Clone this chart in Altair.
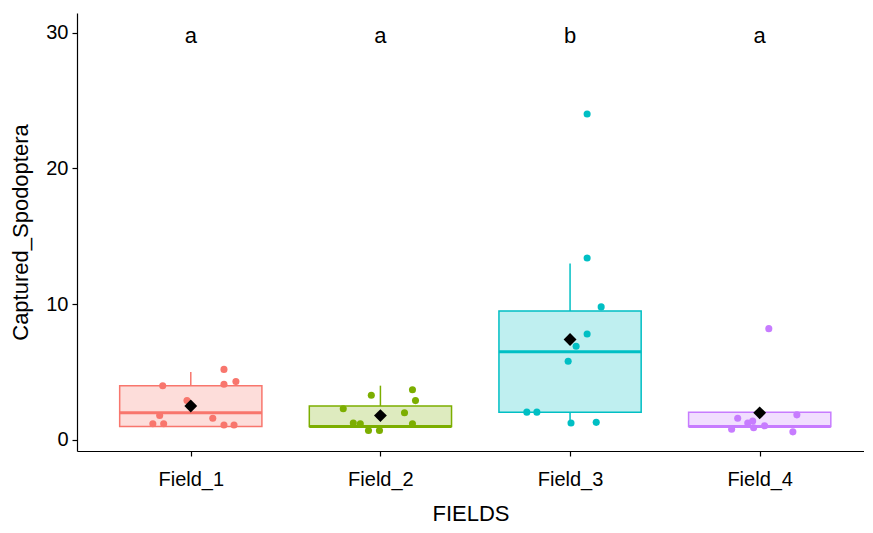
import altair as alt
import pandas as pd

fields = ["Field_1", "Field_2", "Field_3", "Field_4"]
colors = ["#F8766D", "#7CAE00", "#00BFC4", "#C77CFF"]
letters = ["a", "a", "b", "a"]

# box statistics
lower = [1.0, 1.0, 1.25, 1.0]
q1 = [1.0, 1.0, 2.05, 1.0]
median = [2.0, 1.0, 6.5, 1.0]
q3 = [4.0, 2.5, 9.5, 2.05]
upper = [5.0, 4.0, 13.0, 2.05]
means = [2.5, 1.8, 7.4, 2.0]

# jittered observations
f1_vals = [4.0, 5.2, 4.1, 4.3, 2.9, 1.8, 1.2, 1.2, 1.6, 1.1, 1.1]
f1_jit = [-0.148, 0.175, 0.175, 0.238, -0.02, -0.164, -0.2, -0.143, 0.116, 0.175, 0.228]
f2_vals = [3.3, 3.7, 2.9, 2.3, 2.0, 1.25, 1.2, 0.7, 0.7, 1.2]
f2_jit = [-0.048, 0.169, 0.185, -0.196, 0.127, -0.143, -0.106, -0.063, -0.005, 0.169]
f3_vals = [24.0, 13.4, 9.8, 7.8, 6.9, 5.8, 2.05, 2.05, 1.25, 1.3]
f3_jit = [0.09, 0.09, 0.164, 0.09, 0.032, -0.01, -0.228, -0.175, 0.005, 0.138]
f4_vals = [8.2, 1.85, 1.6, 1.25, 1.4, 0.9, 1.05, 0.8, 0.6]
f4_jit = [0.048, 0.196, -0.116, -0.063, -0.037, -0.032, 0.026, -0.148, 0.175]

box_half = 0.375

box_df = pd.DataFrame({
    "field": fields,
    "idx": [1, 2, 3, 4],
    "lower": lower, "q1": q1, "median": median, "q3": q3, "upper": upper,
    "mean": means, "letter": letters,
})
box_df["left"] = box_df["idx"] - box_half
box_df["right"] = box_df["idx"] + box_half
box_df["ytext"] = 30

rows = []
for i, (vals, jit) in enumerate([(f1_vals, f1_jit), (f2_vals, f2_jit), (f3_vals, f3_jit), (f4_vals, f4_jit)]):
    for v, j in zip(vals, jit):
        rows.append({"field": fields[i], "x": i + 1 + j, "value": v})
pts_df = pd.DataFrame(rows)

color = alt.Color("field:N", scale=alt.Scale(domain=fields, range=colors), legend=None)

label_expr = "[" + ",".join("'" + f + "'" for f in fields) + "][datum.value - 1]"

xscale = alt.Scale(domain=[0.4, 4.55], nice=False, zero=False)
yscale = alt.Scale(domain=[-0.81, 31.44], nice=False, zero=False)

xaxis = alt.Axis(values=[1, 2, 3, 4], labelExpr=label_expr, title="FIELDS", grid=False,
                 labelPadding=13, titlePadding=14)
yaxis = alt.Axis(values=[0, 10, 20, 30], title="Captured_Spodoptera", grid=False,
                 labelPadding=4, titlePadding=13)

base = alt.Chart(box_df)

whisk_up = base.mark_rule(strokeWidth=1.5).encode(
    x=alt.X("idx:Q", scale=xscale, axis=xaxis),
    y=alt.Y("q3:Q", scale=yscale, axis=yaxis),
    y2="upper:Q",
    color=color,
)
whisk_lo = base.mark_rule(strokeWidth=1.5).encode(
    x="idx:Q", y="lower:Q", y2="q1:Q", color=color,
)
boxes = base.mark_rect(fillOpacity=0.25, strokeWidth=1.5).encode(
    x="left:Q", x2="right:Q", y="q1:Q", y2="q3:Q",
    fill=color, stroke=alt.Stroke("field:N", scale=alt.Scale(domain=fields, range=colors), legend=None),
)
med = base.mark_rule(strokeWidth=3).encode(
    x="left:Q", x2="right:Q", y="median:Q", color=color,
)
points = alt.Chart(pts_df).mark_point(filled=True, size=50, opacity=1, shape="circle").encode(
    x="x:Q", y="value:Q", color=color,
)
mean_pts = base.mark_point(filled=True, shape="diamond", size=165, color="black", opacity=1).encode(
    x="idx:Q", y="mean:Q",
)
letters_txt = base.mark_text(fontSize=22, baseline="middle", dy=3, color="black",
                             font="Liberation Sans").encode(
    x="idx:Q", y="ytext:Q", text="letter:N",
)

chart = alt.layer(whisk_up, whisk_lo, boxes, med, points, mean_pts, letters_txt).properties(
    width=787, height=438,
    padding={"left": 1, "top": 5, "right": 0, "bottom": 0},
).configure_view(stroke=None).configure_axis(
    domainColor="black", tickColor="black", domainWidth=1.2, tickWidth=1.2, tickSize=5,
    labelFont="Liberation Sans", titleFont="Liberation Sans",
    labelFontSize=20, titleFontSize=22, labelColor="black", titleColor="black",
    titleFontWeight="normal",
)

chart.save("out.html", embed_options={"renderer": "svg", "actions": False})
